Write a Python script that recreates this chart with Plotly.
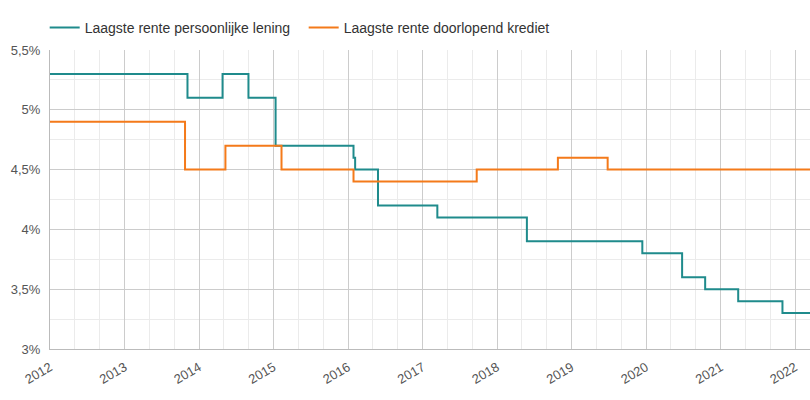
import plotly.graph_objects as go

# Laagste rente persoonlijke lening (step series: date of change, rate %)
pl_dates = ["2012-01-01", "2013-11-05", "2014-04-26", "2014-08-31", "2015-01-11",
            "2016-01-28", "2016-02-05", "2016-05-27", "2017-03-14", "2018-05-27",
            "2019-12-14", "2020-06-26", "2020-10-17", "2021-03-28", "2021-10-31",
            "2022-03-15"]
pl_rates = [5.3, 5.1, 5.3, 5.1, 4.7, 4.6, 4.5, 4.2, 4.1, 3.9, 3.8, 3.6, 3.5, 3.4, 3.3, 3.3]

# Laagste rente doorlopend krediet
dk_dates = ["2012-01-01", "2013-10-24", "2014-05-10", "2015-02-09", "2016-01-28",
            "2017-09-23", "2018-10-26", "2019-06-27", "2022-03-15"]
dk_rates = [4.9, 4.5, 4.7, 4.5, 4.4, 4.5, 4.6, 4.5, 4.5]

y_ticks = [3, 3.5, 4, 4.5, 5, 5.5]
y_ticklabels = ["3%", "3,5%", "4%", "4,5%", "5%", "5,5%"]

TEAL = "#1f8b8c"
ORANGE = "#f47a1a"

fig = go.Figure()
fig.add_trace(go.Scatter(x=pl_dates, y=pl_rates, mode="lines", line_shape="hv",
                         name="Laagste rente persoonlijke lening",
                         line=dict(color=TEAL, width=2)))
fig.add_trace(go.Scatter(x=dk_dates, y=dk_rates, mode="lines", line_shape="hv",
                         name="Laagste rente doorlopend krediet",
                         line=dict(color=ORANGE, width=2)))

fig.update_layout(
    width=810, height=400,
    margin=dict(l=50, r=0, t=50, b=51),
    paper_bgcolor="white", plot_bgcolor="white",
    font=dict(family="Liberation Sans, Arial, sans-serif", size=13, color="#444"),
    showlegend=True,
    legend=dict(orientation="h", x=-0.007, y=1.074, xanchor="left", yanchor="middle",
                font=dict(size=14, color="#333"), itemwidth=30, tracegroupgap=0,
                entrywidth=214, entrywidthmode="pixels"),
)
fig.update_xaxes(
    type="date", range=["2012-01-01", "2022-03-15"],
    dtick="M12", tick0="2012-01-01", tickformat="%Y", tickangle=-30,
    showgrid=True, gridcolor="#cccccc", gridwidth=1,
    minor=dict(dtick="M4", tick0="2012-01-01", showgrid=True, gridcolor="#ebebeb"),
    showline=True, linecolor="#bbbbbb", linewidth=1,
    ticks="", tickfont=dict(size=13, color="#555"), zeroline=False,
    ticklabelstandoff=5,
)
fig.update_yaxes(
    range=[3, 5.5], tickvals=y_ticks, ticktext=y_ticklabels,
    showgrid=True, gridcolor="#cccccc", gridwidth=1,
    minor=dict(dtick=0.25, tick0=3, showgrid=True, gridcolor="#ebebeb"),
    showline=True, linecolor="#bbbbbb", linewidth=1,
    ticks="", tickfont=dict(size=13, color="#555"), zeroline=False,
    ticklabelstandoff=6,
)

fig.write_html("out.html")
